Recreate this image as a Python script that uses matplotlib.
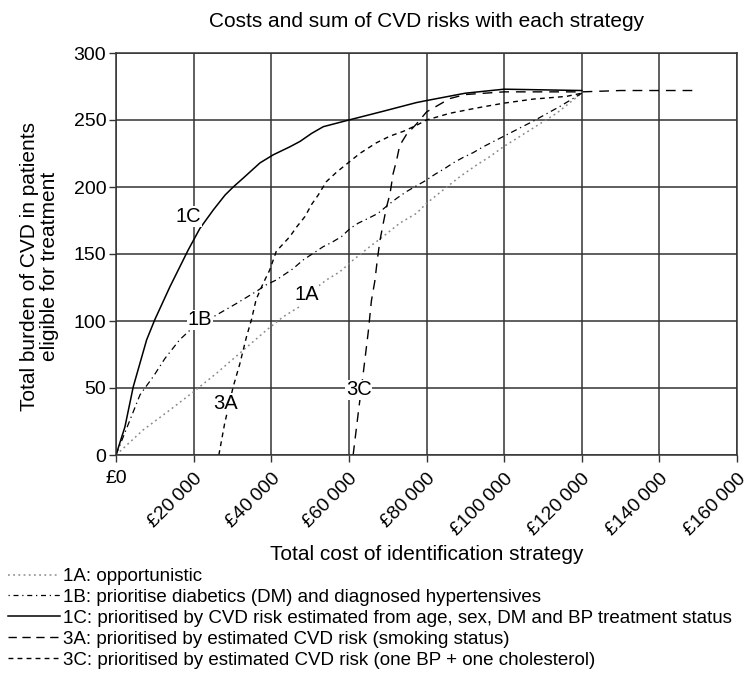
import matplotlib
matplotlib.use("Agg")
import matplotlib.pyplot as plt
from matplotlib.lines import Line2D

plt.rcParams['font.family'] = ['Liberation Sans', 'DejaVu Sans']

# strategy curves: cost (GBP) vs total CVD burden
x_1a = [0, 7000, 13900, 19900, 25900, 32700, 38700, 43000, 47300, 50800, 54200, 57700, 61100,
        65400, 68800, 73100, 77400, 80000, 84300, 88600, 92900, 96300, 99800, 107500, 113500, 120000]
y_1a = [0, 18.7, 33.6, 47, 61, 78, 93, 103, 110.7, 123, 130.6, 136.8, 145.5,
        155.5, 163, 173, 180.3, 187.8, 197.8, 207.7, 216.4, 222.6, 230, 244, 255, 270]

x_1b = [0, 6200, 9600, 12600, 16400, 19000, 25900, 31000, 36100, 38700, 41300, 45600, 48200,
        50800, 53400, 55500, 58100, 60300, 62400, 65000, 67500, 70100, 72300, 74800, 77000,
        79600, 82200, 84800, 86900, 89400, 92000, 94600, 99800, 107400, 114300, 120000]
y_1b = [0, 45, 58.5, 72, 86, 93, 104.5, 113, 122, 127, 130.6, 139, 145.5,
        150.5, 155.5, 158.5, 163, 169, 173, 176.6, 180.3, 186.6, 191.5, 196.5, 200.2,
        204.5, 209.5, 214, 218, 222, 225.6, 230, 237.7, 249, 260, 270]

x_1c = [0, 2300, 4450, 7900, 10000, 13900, 18600, 21600, 25100, 28100, 30200, 32800, 37100,
        40500, 44800, 47400, 50400, 53400, 60000, 68800, 77400, 80000, 90000, 100000, 110000, 120000]
y_1c = [0, 21, 51, 86, 101, 125.6, 153, 169, 183, 194, 200, 206.7, 218,
        224, 230, 234, 240, 245, 250, 256.5, 263, 264.5, 270, 273, 272.5, 272]

x_3a = [26500, 28000, 30200, 31900, 33600, 34900, 36100, 37900, 39600, 41300, 44800, 46500,
        48700, 50400, 52100, 54200, 56800, 59800, 62800, 67100, 70600, 74000, 77400, 80000,
        86000, 93000, 100000, 107500, 116000, 120000]
y_3a = [0, 23.6, 51, 68, 88, 101, 116, 128, 138, 152, 163, 170,
        178, 187, 194, 204, 211, 218, 225, 233, 238, 241.5, 246, 250,
        255, 259, 262.6, 265.6, 267.6, 270]

x_3c = [61100, 62400, 63700, 65000, 65800, 66700, 67300, 68000, 69000, 69700, 70600, 71400,
        72300, 73100, 74800, 77400, 80000, 86000, 90000, 100000, 110000, 120000, 130000,
        140000, 150000]
y_3c = [0, 31, 61, 92, 115, 130, 145, 160, 175, 185, 195, 210,
        220, 231, 239, 247, 256, 266, 269, 271, 271, 271, 272, 272, 272]

x_ticks = [0, 20000, 40000, 60000, 80000, 100000, 120000, 140000, 160000]
x_tick_labels = ['£0', '£20\u2009000', '£40\u2009000', '£60\u2009000', '£80\u2009000',
                 '£100\u2009000', '£120\u2009000', '£140\u2009000', '£160\u2009000']
y_ticks = [0, 50, 100, 150, 200, 250, 300]

legend_labels = ['1A: opportunistic',
                 '1B: prioritise diabetics (DM) and diagnosed hypertensives',
                 '1C: prioritised by CVD risk estimated from age, sex, DM and BP treatment status',
                 '3A: prioritised by estimated CVD risk (smoking status)',
                 '3C: prioritised by estimated CVD risk (one BP + one cholesterol)']

fig = plt.figure(figsize=(7.53, 6.82), dpi=100)
ax = fig.add_axes([116 / 753, 1 - 455 / 682, (737 - 116) / 753, (455 - 53) / 682])

ax.plot(x_1a, y_1a, color='#8a8a8a', lw=1.1, dashes=(1.2, 2.2))
ax.plot(x_1b, y_1b, color='black', lw=0.9, dashes=(5, 3, 1, 3))
ax.plot(x_1c, y_1c, color='black', lw=1.1)
ax.plot(x_3a, y_3a, color='black', lw=1.0, dashes=(3.5, 3))
ax.plot(x_3c, y_3c, color='black', lw=1.0, dashes=(7, 5))

ax.set_xlim(0, 160000)
ax.set_ylim(0, 300)
ax.set_xticks(x_ticks)
ax.set_yticks(y_ticks)
ax.set_yticklabels([str(v) for v in y_ticks], fontsize=14)
ax.set_xticklabels(x_tick_labels, fontsize=14, rotation=45, ha='right', rotation_mode='anchor')
lab0 = ax.get_xticklabels()[0]
lab0.set_rotation(0)
lab0.set_ha('center')
ax.tick_params(direction='out', length=5, width=1, color='#333333')
ax.tick_params(axis='x', pad=6)
ax.tick_params(axis='y', pad=2)
ax.grid(True, color='#333333', lw=1.1)
for s in ax.spines.values():
    s.set_color('#333333')
    s.set_linewidth(1.1)

# curve labels
for txt, lx, ly in [('1C', 18600, 178), ('1B', 21600, 101), ('1A', 49100, 119.5),
                    ('3A', 28100, 38.6), ('3C', 62600, 48.6)]:
    ax.text(lx, ly, txt, fontsize=14.5, ha='center', va='center',
            bbox=dict(facecolor='white', edgecolor='none', pad=0.5))

ax.set_title('Costs and sum of CVD risks with each strategy', fontsize=15, pad=19)
ax.set_xlabel('Total cost of identification strategy', fontsize=15)
ax.xaxis.set_label_coords(0.5, -0.225)
ax.set_ylabel('Total burden of CVD in patients\neligible for treatment', fontsize=15,
              linespacing=1.05)
ax.yaxis.set_label_coords(-0.092, 0.47)

handles = [Line2D([], [], color='#8a8a8a', lw=1.1, dashes=(1.2, 2.2)),
           Line2D([], [], color='black', lw=0.9, dashes=(1, 3, 4, 3)),
           Line2D([], [], color='black', lw=1.1),
           Line2D([], [], color='black', lw=1.0, dashes=(6, 4)),
           Line2D([], [], color='black', lw=1.0, dashes=(3.5, 3))]
fig.legend(handles, legend_labels, loc='upper left', bbox_to_anchor=(8 / 753, 1 - 568 / 682),
           frameon=False, fontsize=13.5, handlelength=2.8, handletextpad=0.15,
           labelspacing=0.2, borderpad=0, borderaxespad=0)

fig.savefig('out.png', dpi=100)
